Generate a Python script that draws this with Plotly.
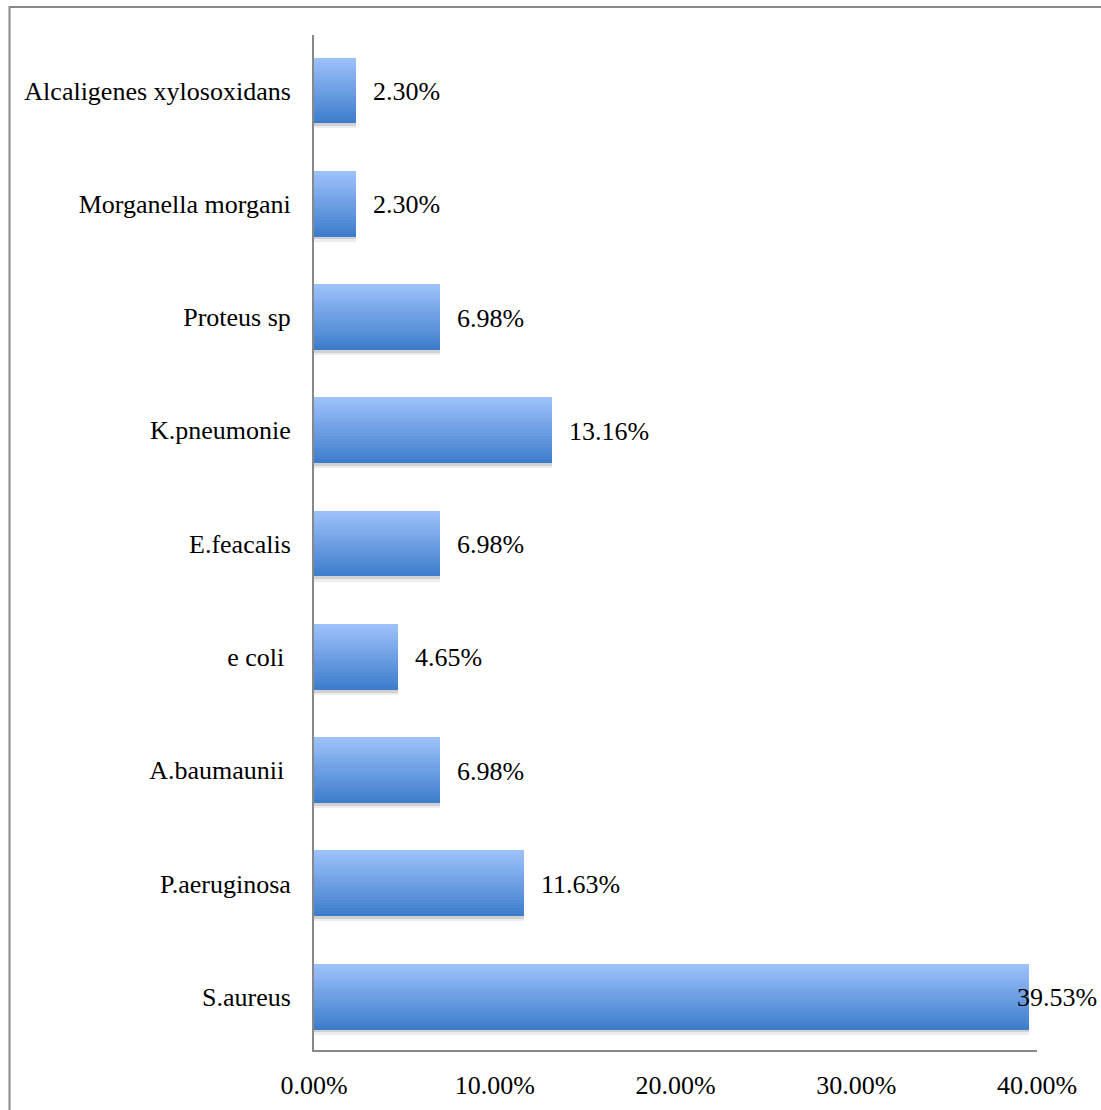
import plotly.graph_objects as go

# Isolates, listed bottom to top on the category axis
organisms = [
    "S.aureus",
    "P.aeruginosa",
    "A.baumaunii\u00a0",
    "e coli\u00a0",
    "E.feacalis",
    "K.pneumonie",
    "Proteus sp",
    "Morganella morgani",
    "Alcaligenes xylosoxidans",
]
percentages = [39.53, 11.63, 6.98, 4.65, 6.98, 13.16, 6.98, 2.30, 2.30]
x_ticks = [0, 10, 20, 30, 40]

# Styling
FONT = "Liberation Serif"
FONT_SIZE = 26
BAR_WIDTH = 0.58
N_STRIPS = 24
COLOR_BOTTOM = (62, 125, 204)
COLOR_TOP = (156, 193, 250)
AXIS_COLOR = "#888888"
# horizontal nudge of each value label, in pixels (last one is pulled back to stay inside the frame)
label_shift = [-14, 15, 15, 15, 15, 15, 15, 15, 15]

fig = go.Figure()

# soft drop shadow under each bar
for dy, alpha in [(0.045, 0.07), (0.025, 0.12)]:
    fig.add_trace(go.Bar(
        x=percentages, y=organisms, orientation="h",
        width=BAR_WIDTH, offset=-BAR_WIDTH / 2 - dy,
        marker=dict(color=f"rgba(0,0,0,{alpha})", line=dict(width=0)),
        hoverinfo="skip", showlegend=False,
    ))

# vertical gradient fill built from thin stacked strips
strip = BAR_WIDTH / N_STRIPS
for i in range(N_STRIPS):
    t = i / (N_STRIPS - 1)
    r, g, b = (round(c0 + (c1 - c0) * t) for c0, c1 in zip(COLOR_BOTTOM, COLOR_TOP))
    fig.add_trace(go.Bar(
        x=percentages, y=organisms, orientation="h",
        width=strip * 1.05, offset=-BAR_WIDTH / 2 + i * strip,
        marker=dict(color=f"rgb({r},{g},{b})", line=dict(width=0)),
        hoverinfo="skip", showlegend=False,
    ))

# value labels
for org, val, dx in zip(organisms, percentages, label_shift):
    fig.add_annotation(
        x=val, y=org, text=f"{val:.2f}%", showarrow=False,
        xanchor="left", yanchor="middle", xshift=dx, yshift=-1,
        font=dict(family=FONT, size=FONT_SIZE, color="black"),
    )

# outer chart frame
PL, PR, PT, PB = 314, 1037, 35, 1050
pw, ph = PR - PL, PB - PT
fig.add_shape(
    type="rect", xref="paper", yref="paper",
    x0=(9.5 - PL) / pw, x1=(1115 - PL) / pw,
    y0=(PB - 1125) / ph, y1=(PB - 7) / ph,
    line=dict(color=AXIS_COLOR, width=2), fillcolor="rgba(0,0,0,0)", layer="below",
)

fig.update_layout(
    width=1101, height=1110,
    margin=dict(l=PL, r=1101 - PR, t=PT, b=1110 - PB, autoexpand=False),
    barmode="overlay", bargap=0,
    paper_bgcolor="white", plot_bgcolor="white",
    font=dict(family=FONT, size=FONT_SIZE, color="black"),
    showlegend=False,
)
fig.update_xaxes(
    range=[0, 40], tickvals=x_ticks, ticktext=[f"{t:.2f}%" for t in x_ticks],
    showgrid=False, zeroline=False, showline=True, automargin=False,
    linecolor=AXIS_COLOR, linewidth=2, ticks="", ticklabelstandoff=11,
    tickfont=dict(family=FONT, size=FONT_SIZE, color="black"),
)
fig.update_yaxes(
    type="category", categoryorder="array", categoryarray=organisms,
    range=[-0.47, 8.49], automargin=False,
    showgrid=False, zeroline=False, showline=True,
    linecolor=AXIS_COLOR, linewidth=2, ticks="", ticklabelstandoff=16,
    tickfont=dict(family=FONT, size=FONT_SIZE, color="black"),
)

fig.write_html("out.html")
